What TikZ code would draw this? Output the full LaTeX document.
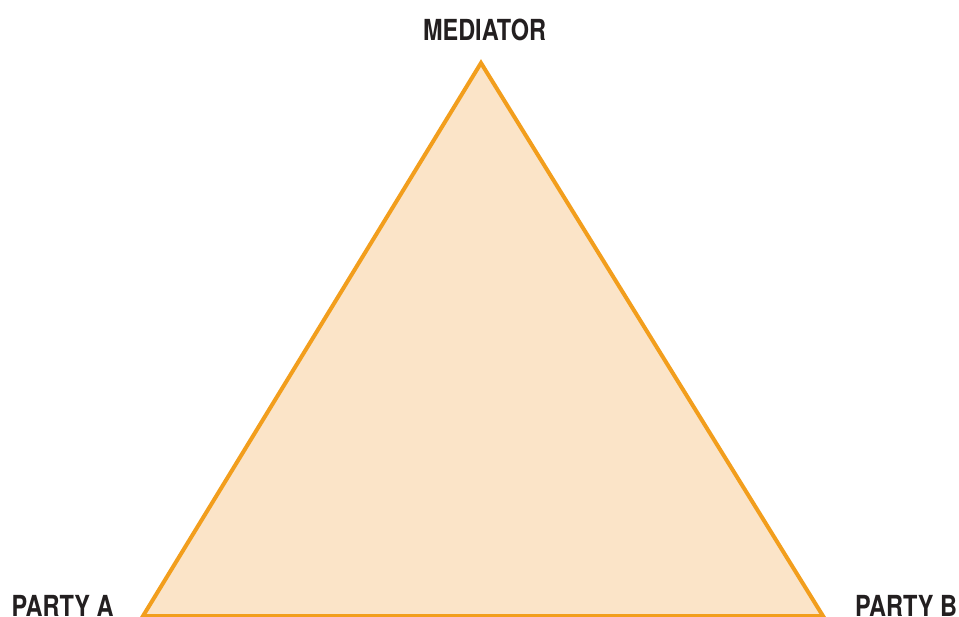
\documentclass[tikz,border=0pt]{standalone}
\usepackage{fontspec}
\setmainfont{TeX Gyre Heros}[FakeStretch=0.81]
\definecolor{triline}{HTML}{F29E1D}
\definecolor{trifill}{HTML}{FBE4C8}
\definecolor{labeltext}{HTML}{231F20}
\tikzset{
  lbl/.style={text=labeltext, font=\fontsize{29}{30}\selectfont\bfseries, inner sep=0pt, anchor=base},
  tri/.style={draw=triline, fill=trifill, line width=4pt, line join=miter}
}
\begin{document}
\begin{tikzpicture}[x=1pt,y=-1pt]
\useasboundingbox (0,0) rectangle (959,617);
\coordinate (top) at (481,63);
\coordinate (bl) at (143,616);
\coordinate (br) at (823,616);
\draw[tri] (top) -- (bl) -- (br) -- cycle;
\node[lbl] (med) at (484.5,41) {MEDIATOR};
\node[lbl] (pa) at (62.5,616) {PARTY A};
\node[lbl] (pb) at (906,616) {PARTY B};
\end{tikzpicture}
\end{document}
